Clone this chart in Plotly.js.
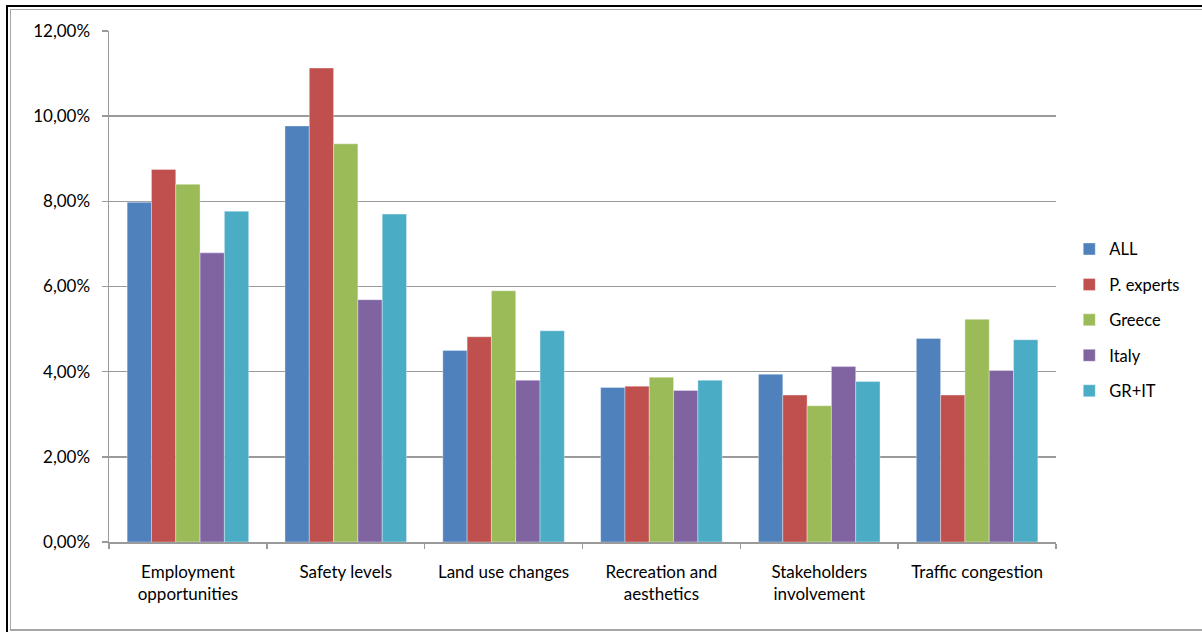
<!DOCTYPE html>
<html>
<head>
<meta charset="utf-8">
<script src="https://cdn.plot.ly/plotly-3.0.1.min.js"></script>
<style>
  html, body { margin: 0; padding: 0; background: #fff; }
  #wrap { position: relative; width: 1202px; height: 632px; overflow: hidden; }
  #chart { position: absolute; left: 0; top: 0; width: 1202px; height: 632px; }
  .frame-dark { position: absolute; left: 6px; top: 5px; width: 1300px; height: 700px;
                border-left: 2px solid #000; border-top: 2px solid #000; pointer-events: none; }
  .frame-light { position: absolute; left: 10px; top: 9px; width: 1300px; height: 619px;
                 border-left: 1px solid #a6a6a6; border-top: 1px solid #a6a6a6;
                 border-bottom: 2px solid #a6a6a6; pointer-events: none; }
</style>
</head>
<body>
<div id="wrap">
  <div id="chart"></div>
  <div class="frame-dark"></div>
  <div class="frame-light"></div>
</div>
<script>
// Impact categories (x axis)
const categories = [
  "Employment<br>opportunities",
  "Safety levels",
  "Land use changes",
  "Recreation and<br>aesthetics",
  "Stakeholders<br>involvement",
  "Traffic congestion"
];

// Share of responses per group, in percent
const allValues      = [7.98, 9.77, 4.50, 3.63, 3.94, 4.78];
const expertsValues  = [8.75, 11.13, 4.82, 3.66, 3.45, 3.45];
const greeceValues   = [8.40, 9.35, 5.90, 3.87, 3.20, 5.23];
const italyValues    = [6.79, 5.69, 3.80, 3.56, 4.12, 4.03];
const grItValues     = [7.77, 7.70, 4.96, 3.80, 3.77, 4.75];

const seriesNames = ["ALL", "P. experts", "Greece", "Italy", "GR+IT"];
const seriesValues = [allValues, expertsValues, greeceValues, italyValues, grItValues];
const seriesColors = ["#4F81BD", "#C0504D", "#9BBB59", "#8064A2", "#4BACC6"];

// Y axis tick values and labels
const yTickVals = [0, 2, 4, 6, 8, 10, 12];
const yTickText = ["0,00%", "2,00%", "4,00%", "6,00%", "8,00%", "10,00%", "12,00%"];

const traces = seriesNames.map((name, i) => ({
  type: "bar",
  name: name,
  x: categories,
  y: seriesValues[i],
  legendgroup: "g" + i,
  marker: { color: seriesColors[i], line: { color: "rgba(255,255,255,0.35)", width: 1 } },
  hoverinfo: "x+y+name"
}));

const font = "Lato, 'Liberation Sans', sans-serif";

const layout = {
  width: 1202,
  height: 632,
  margin: { l: 109, r: 146, t: 31, b: 90 },
  paper_bgcolor: "#ffffff",
  plot_bgcolor: "#ffffff",
  font: { family: font, size: 17, color: "#000" },
  barmode: "group",
  bargap: 0.23,
  bargroupgap: 0,
  showlegend: true,
  legend: {
    x: 1.014, xanchor: "left",
    y: 0.434, yanchor: "middle",
    traceorder: "grouped",
    tracegroupgap: 11,
    font: { family: font, size: 16.5, color: "#000" },
    bgcolor: "rgba(0,0,0,0)"
  },
  xaxis: {
    type: "category",
    showline: true,
    linecolor: "#9a9a9a",
    linewidth: 1.5,
    ticks: "outside",
    tickson: "boundaries",
    ticklen: 5,
    tickcolor: "#9a9a9a",
    tickwidth: 1.5,
    showgrid: false,
    ticklabelstandoff: 14,
    tickfont: { family: font, size: 17, color: "#000" },
    fixedrange: true
  },
  yaxis: {
    range: [0, 12],
    tickvals: yTickVals,
    ticktext: yTickText,
    showline: true,
    linecolor: "#9a9a9a",
    linewidth: 1.5,
    ticks: "outside",
    ticklen: 6,
    tickcolor: "#9a9a9a",
    tickwidth: 1.5,
    showgrid: true,
    gridcolor: "#9a9a9a",
    gridwidth: 1.5,
    zeroline: false,
    ticklabelstandoff: 8,
    tickfont: { family: font, size: 17, color: "#000" },
    fixedrange: true
  }
};

Plotly.newPlot("chart", traces, layout, { displayModeBar: false, staticPlot: true });
</script>
</body>
</html>
